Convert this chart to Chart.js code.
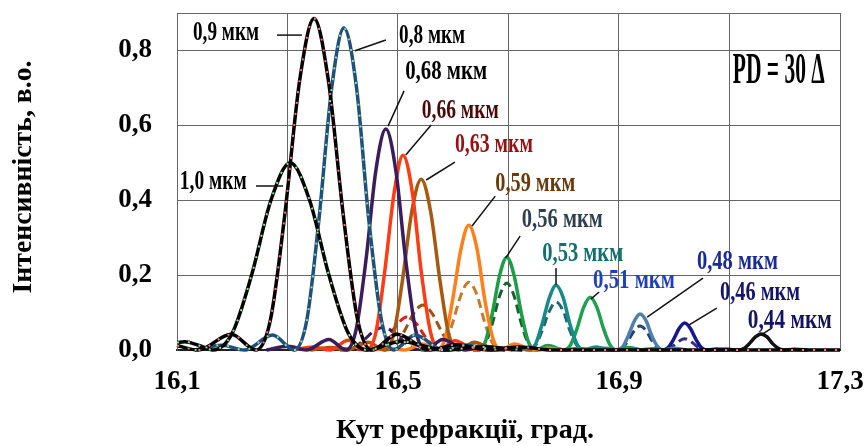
<!DOCTYPE html>
<html>
<head>
<meta charset="utf-8">
<script src="https://cdn.jsdelivr.net/npm/chart.js@4/dist/chart.umd.min.js"></script>
<style>
  html, body { margin: 0; padding: 0; background: #fff; }
</style>
</head>
<body>
<canvas id="chart" width="865" height="446"></canvas>
<script>
// осі
const xTicks = [16.1, 16.3, 16.5, 16.7, 16.9, 17.1, 17.3];
const yTicks = [0, 0.2, 0.4, 0.6, 0.8, 0.9];

// суцільні криві: [кут, інтенсивність]
const c100 = [[16.100, 0.020], [16.114, 0.022], [16.140, 0.012], [16.165, 0], [16.200, 0.045], [16.235, 0.20], [16.270, 0.40], [16.305, 0.50], [16.340, 0.40], [16.375, 0.20], [16.410, 0.045], [16.445, 0], [16.505, 0.023], [16.585, 0], [16.650, 0.008], [16.725, 0]];
const c090 = [[16.100, 0.012], [16.138, 0], [16.198, 0.042], [16.243, 0], [16.269, 0.08], [16.295, 0.36], [16.322, 0.72], [16.348, 0.885], [16.374, 0.72], [16.401, 0.36], [16.427, 0.08], [16.453, 0], [16.498, 0.042], [16.558, 0], [16.606, 0.014], [16.663, 0], [16.720, 0.008], [16.780, 0], [17.300, 0]];
const c080 = [[16.132, 0], [16.181, 0.013], [16.222, 0], [16.273, 0.040], [16.312, 0], [16.335, 0.08], [16.357, 0.35], [16.380, 0.70], [16.402, 0.86], [16.425, 0.70], [16.447, 0.35], [16.470, 0.08], [16.492, 0], [16.531, 0.040], [16.582, 0], [16.623, 0.013], [16.672, 0]];
const c068 = [[16.262, 0], [16.301, 0.010], [16.334, 0], [16.375, 0.028], [16.406, 0], [16.424, 0.053], [16.442, 0.24], [16.460, 0.48], [16.478, 0.59], [16.496, 0.48], [16.514, 0.24], [16.532, 0.053], [16.550, 0], [16.581, 0.028], [16.622, 0], [16.655, 0.010], [16.694, 0]];
const c066 = [[16.311, 0], [16.347, 0.008], [16.377, 0], [16.410, 0.026], [16.443, 0], [16.460, 0.047], [16.476, 0.21], [16.493, 0.42], [16.509, 0.52], [16.526, 0.42], [16.542, 0.21], [16.559, 0.047], [16.575, 0], [16.603, 0.025], [16.641, 0], [16.671, 0.008], [16.707, 0]];
const c063 = [[16.341, 0], [16.377, 0.007], [16.408, 0], [16.446, 0.021], [16.475, 0], [16.492, 0.041], [16.508, 0.185], [16.525, 0.37], [16.542, 0.456], [16.559, 0.37], [16.576, 0.185], [16.592, 0.041], [16.609, 0], [16.638, 0.021], [16.676, 0], [16.707, 0.007], [16.743, 0]];
const c059 = [[16.454, 0], [16.485, 0.005], [16.512, 0], [16.545, 0.016], [16.570, 0], [16.585, 0.030], [16.599, 0.135], [16.614, 0.27], [16.628, 0.333], [16.643, 0.27], [16.657, 0.135], [16.672, 0.030], [16.686, 0], [16.711, 0.016], [16.744, 0], [16.771, 0.005], [16.802, 0]];
const c056 = [[16.541, 0], [16.569, 0.004], [16.593, 0], [16.623, 0.012], [16.645, 0], [16.658, 0.022], [16.671, 0.10], [16.684, 0.20], [16.697, 0.248], [16.710, 0.20], [16.723, 0.10], [16.736, 0.022], [16.749, 0], [16.771, 0.012], [16.801, 0], [16.825, 0.004], [16.853, 0]];
const c053 = [[16.636, 0], [16.663, 0.003], [16.686, 0], [16.715, 0.008], [16.736, 0], [16.749, 0.016], [16.761, 0.07], [16.774, 0.14], [16.786, 0.173], [16.799, 0.14], [16.811, 0.07], [16.824, 0.016], [16.836, 0], [16.858, 0.008], [16.886, 0], [16.909, 0.003], [16.936, 0]];
const c051 = [[16.704, 0], [16.730, 0.002], [16.752, 0], [16.779, 0.007], [16.800, 0], [16.812, 0.013], [16.824, 0.057], [16.836, 0.114], [16.848, 0.141], [16.860, 0.114], [16.872, 0.057], [16.884, 0.013], [16.896, 0], [16.917, 0.007], [16.944, 0], [16.966, 0.002], [16.992, 0]];
const c048 = [[16.854, 0], [16.878, 0.005], [16.896, 0], [16.907, 0.009], [16.917, 0.039], [16.928, 0.078], [16.938, 0.096], [16.949, 0.078], [16.959, 0.039], [16.970, 0.009], [16.980, 0], [16.998, 0.005], [17.022, 0]];
const c046 = [[16.939, 0], [16.962, 0.003], [16.979, 0], [16.989, 0.007], [16.999, 0.029], [17.009, 0.058], [17.019, 0.072], [17.029, 0.058], [17.039, 0.029], [17.049, 0.007], [17.059, 0], [17.076, 0.003], [17.099, 0]];
const c044 = [[17.073, 0], [17.097, 0.002], [17.115, 0], [17.126, 0.004], [17.136, 0.017], [17.147, 0.035], [17.157, 0.043], [17.168, 0.035], [17.178, 0.017], [17.189, 0.004], [17.199, 0], [17.217, 0.002], [17.241, 0]];

// штрихові криві
const d068 = [[16.370, 0.003], [16.401, 0], [16.419, 0.006], [16.437, 0.025], [16.455, 0.049], [16.473, 0.060], [16.491, 0.049], [16.509, 0.025], [16.527, 0.006], [16.545, 0], [16.576, 0.003], [16.620, 0]];
const d066 = [[16.400, 0.004], [16.450, 0], [16.467, 0.008], [16.483, 0.036], [16.500, 0.071], [16.516, 0.088], [16.533, 0.071], [16.549, 0.036], [16.566, 0.008], [16.582, 0], [16.610, 0.004], [16.650, 0]];
const d063 = [[16.450, 0.006], [16.478, 0], [16.495, 0.011], [16.511, 0.049], [16.528, 0.097], [16.545, 0.120], [16.562, 0.097], [16.579, 0.049], [16.595, 0.011], [16.612, 0], [16.641, 0.006], [16.680, 0]];
const d059 = [[16.545, 0.008], [16.570, 0], [16.585, 0.016], [16.599, 0.073], [16.614, 0.147], [16.628, 0.181], [16.643, 0.147], [16.657, 0.073], [16.672, 0.016], [16.686, 0], [16.711, 0.008], [16.744, 0]];
const d056 = [[16.623, 0.008], [16.645, 0], [16.658, 0.016], [16.671, 0.072], [16.684, 0.145], [16.697, 0.179], [16.710, 0.145], [16.723, 0.072], [16.736, 0.016], [16.749, 0], [16.771, 0.008], [16.800, 0]];
const d053 = [[16.715, 0.006], [16.736, 0], [16.749, 0.012], [16.761, 0.052], [16.774, 0.104], [16.786, 0.128], [16.799, 0.104], [16.811, 0.052], [16.824, 0.012], [16.836, 0], [16.858, 0.006], [16.886, 0]];
const d048 = [[16.878, 0.003], [16.896, 0], [16.907, 0.006], [16.917, 0.026], [16.928, 0.052], [16.938, 0.064], [16.949, 0.052], [16.959, 0.026], [16.970, 0.006], [16.980, 0], [16.998, 0.003], [17.022, 0]];
const d046 = [[16.962, 0.001], [16.979, 0], [16.989, 0.003], [16.999, 0.012], [17.009, 0.024], [17.019, 0.030], [17.029, 0.024], [17.039, 0.012], [17.049, 0.003], [17.059, 0], [17.076, 0.001], [17.100, 0]];

// підписи кривих: текст, колір, лівий край і центр тексту (у величинах осей), ширина тексту, лінія-виноска
const curveLabels = [
  { text: '0,9 мкм',  color: '#000',    x: 16.129, y: 0.847, w: 66, line: [16.281, 0.841, 16.326, 0.841] },
  { text: '0,8 мкм',  color: '#000',    x: 16.502, y: 0.839, w: 66, line: [16.478, 0.828, 16.422, 0.799] },
  { text: '0,68 мкм', color: '#000',    x: 16.513, y: 0.743, w: 82, line: [16.511, 0.692, 16.482, 0.598] },
  { text: '0,66 мкм', color: '#4a0a0a', x: 16.543, y: 0.638, w: 77, line: [16.560, 0.601, 16.514, 0.521] },
  { text: '0,63 мкм', color: '#9a1010', x: 16.603, y: 0.548, w: 78, line: [16.603, 0.502, 16.551, 0.454] },
  { text: '0,59 мкм', color: '#6b3a0a', x: 16.676, y: 0.443, w: 80, line: [16.676, 0.411, 16.634, 0.331] },
  { text: '0,56 мкм', color: '#2f3f4f', x: 16.724, y: 0.347, w: 81, line: [16.721, 0.304, 16.695, 0.246] },
  { text: '0,53 мкм', color: '#137070', x: 16.761, y: 0.256, w: 81, line: [16.786, 0.219, 16.786, 0.174] },
  { text: '0,51 мкм', color: '#1f3fbf', x: 16.853, y: 0.184, w: 82, line: [16.864, 0.155, 16.849, 0.136] },
  { text: '0,48 мкм', color: '#1a2a9a', x: 17.041, y: 0.235, w: 81, line: [17.052, 0.192, 16.951, 0.088] },
  { text: '0,46 мкм', color: '#141470', x: 17.083, y: 0.152, w: 80, line: [17.077, 0.112, 17.027, 0.067] },
  { text: '0,44 мкм', color: '#141460', x: 17.133, y: 0.077, w: 84, line: [17.177, 0.059, 17.157, 0.040] },
  { text: '1,0 мкм',  color: '#000',    x: 16.105, y: 0.449, w: 67, line: [16.243, 0.438, 16.292, 0.438] }
];

const FONT = '"Liberation Serif", "Times New Roman", serif';

function curve(data, color, extra) {
  return Object.assign({
    data: data.map(([x, y]) => ({ x, y })),
    borderColor: color,
    borderWidth: 3.5,
    pointRadius: 0,
    fill: false,
    cubicInterpolationMode: 'monotone',
    clip: 6
  }, extra || {});
}
const dashed = { borderWidth: 3, borderDash: [9, 5] };
const dots = { borderWidth: 2, borderDash: [2, 9] };

// текст, стиснутий по ширині
function fitText(ctx, text, x, y, width, size, color, align) {
  ctx.font = `bold ${size}px ${FONT}`;
  const w = ctx.measureText(text).width;
  ctx.save();
  ctx.translate(x, y);
  ctx.scale(width / w, 1);
  ctx.fillStyle = color;
  ctx.textBaseline = 'middle';
  ctx.textAlign = align || 'left';
  ctx.fillText(text, 0, 0);
  ctx.restore();
}

// осі не додають власних відступів — область графіка задається layout.padding
function fixBox(size) {
  return axis => {
    if (axis.isHorizontal()) axis.height = size; else axis.width = size;
    axis.paddingTop = axis.paddingBottom = axis.paddingLeft = axis.paddingRight = 0;
  };
}

const labelsPlugin = {
  id: 'curveLabels',
  afterDatasetsDraw(chart) {
    const { ctx } = chart;
    const sx = chart.scales.x, sy = chart.scales.y;
    ctx.save();
    ctx.strokeStyle = '#111';
    ctx.lineWidth = 1.5;
    curveLabels.forEach(l => {
      const [x1, y1, x2, y2] = l.line;
      ctx.beginPath();
      ctx.moveTo(sx.getPixelForValue(x1), sy.getPixelForValue(y1));
      ctx.lineTo(sx.getPixelForValue(x2), sy.getPixelForValue(y2));
      ctx.stroke();
      fitText(ctx, l.text, sx.getPixelForValue(l.x), sy.getPixelForValue(l.y), l.w, 27, l.color);
    });
    fitText(ctx, 'PD = 30 Δ', sx.getPixelForValue(17.106), sy.getPixelForValue(0.743), 92, 44, '#000');

    // назви осей
    fitText(ctx, 'Кут рефракції, град.', 465, 431, 258, 27, '#000', 'center');
    ctx.save();
    ctx.translate(24, 177);
    ctx.rotate(-Math.PI / 2);
    fitText(ctx, 'Інтенсивність, в.о.', 0, 0, 233, 27, '#000', 'center');
    ctx.restore();
    ctx.restore();
  }
};

const comma = v => v.toFixed(1).replace('.', ',');

new Chart(document.getElementById('chart'), {
  type: 'line',
  data: {
    datasets: [
      curve(c090, '#ff7480', dots),
      curve(c100, '#8ee08e', dots),
      curve(c080, '#8ee08e', dots),
      curve(c090, '#000000'),
      curve(c100, '#000000'),
      curve(c080, '#1f4f7f'),
      curve(c068, '#3b1c5c'),
      curve(c066, '#ff3b14'),
      curve(c063, '#a8580f'),
      curve(c059, '#ff7f1a'),
      curve(c056, '#1a9e46'),
      curve(c053, '#188a8a'),
      curve(c051, '#1fa050'),
      curve(c048, '#4f7fae'),
      curve(c046, '#16168f'),
      curve(c044, '#111111'),
      curve(d068, '#3b1c5c', dashed),
      curve(d066, '#e0201a', dashed),
      curve(d063, '#a0520f', dashed),
      curve(d059, '#c87a2a', dashed),
      curve(d056, '#1d5e2e', dashed),
      curve(d053, '#1d6a6a', dashed),
      curve(d048, '#23466e', dashed),
      curve(d046, '#3a2a8a', dashed)
    ]
  },
  options: {
    responsive: false,
    animation: false,
    layout: { padding: { top: 13, right: 25, left: 0, bottom: 0 } },
    plugins: { legend: { display: false }, tooltip: { enabled: false } },
    scales: {
      x: {
        type: 'linear',
        min: 16.1,
        max: 17.3,
        afterBuildTicks: axis => { axis.ticks = xTicks.map(value => ({ value })); },
        afterFit: fixBox(96),
        ticks: {
          autoSkip: false,
          maxRotation: 0,
          padding: 16,
          color: '#000',
          font: { family: FONT, size: 27, weight: 'bold' },
          callback: (v, i) => (i % 2 ? '' : comma(v))
        },
        grid: { color: '#666', lineWidth: 1, drawTicks: false },
        border: { color: '#222', width: 2 }
      },
      y: {
        min: 0,
        max: 0.9,
        afterBuildTicks: axis => { axis.ticks = yTicks.map(value => ({ value })); },
        afterFit: fixBox(177),
        ticks: {
          padding: 25,
          color: '#000',
          font: { family: FONT, size: 27, weight: 'bold' },
          callback: v => (v > 0.85 ? '' : comma(v))
        },
        grid: { color: '#666', lineWidth: 1, drawTicks: false },
        border: { color: '#666', width: 1 }
      }
    }
  },
  plugins: [labelsPlugin]
});
</script>
</body>
</html>
